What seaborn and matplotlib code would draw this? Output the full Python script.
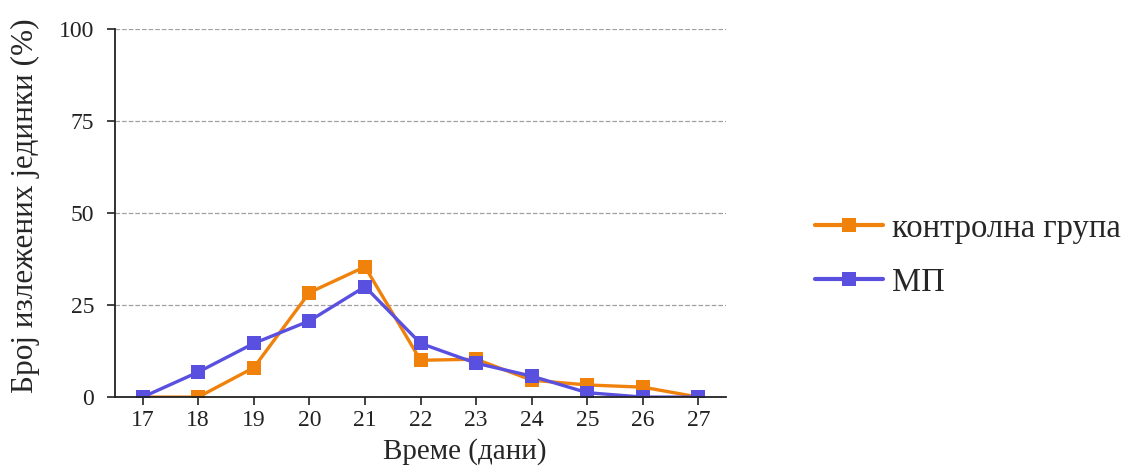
import pandas as pd
import seaborn as sns
import matplotlib.pyplot as plt

days = [17, 18, 19, 20, 21, 22, 23, 24, 25, 26, 27]
control = [0, 0, 8.0, 28.4, 35.4, 10.0, 10.3, 4.6, 3.3, 2.7, 0]
mp = [0, 6.8, 14.6, 20.7, 30.0, 14.6, 9.2, 5.7, 1.2, 0, 0]
series_names = ['контролна група', 'МП']
y_ticks = [0, 25, 50, 75, 100]

df = pd.DataFrame({
    'day': days * 2,
    'value': control + mp,
    'group': [series_names[0]] * len(days) + [series_names[1]] * len(days),
})

sns.set_style('ticks')
plt.rcParams['font.family'] = ['Liberation Serif', 'DejaVu Serif']

fig = plt.figure(figsize=(11.26, 4.75), dpi=100)
ax = fig.add_axes([0.102, 0.164, 0.543, 0.775])

palette = {series_names[0]: '#F0820C', series_names[1]: '#5A50E0'}
sns.lineplot(data=df, x='day', y='value', hue='group', palette=palette,
             marker='s', markersize=10, markeredgewidth=0, linewidth=2.4,
             ax=ax)

ax.set_xlim(16.5, 27.5)
ax.set_ylim(0, 100)
ax.set_xticks(days)
ax.set_yticks(y_ticks)
ax.yaxis.grid(True, linestyle='--', color='#a0a0a0', linewidth=0.9)
ax.set_axisbelow(True)
for s in ['top', 'right']:
    ax.spines[s].set_visible(False)
for s in ['left', 'bottom']:
    ax.spines[s].set_linewidth(1.3)
    ax.spines[s].set_color('#222222')
ax.tick_params(axis='both', labelsize=17, direction='out', length=6, width=1.2, colors='#222222')
ax.tick_params(axis='y', pad=9)

ax.set_xlabel('Време (дани)', fontsize=21)
ax.set_ylabel('Број излежених јединки (%)', fontsize=22.5)
ax.xaxis.set_label_coords(0.573, -0.11)
ax.yaxis.set_label_coords(-0.122, 0.52)

leg = ax.legend(loc='center left', bbox_to_anchor=(1.097, 0.385), frameon=False,
                fontsize=23.5, handlelength=2.1, labelspacing=0.72, handletextpad=0.25)
for h in leg.legend_handles:
    h.set_linewidth(3.0)
    h.set_markersize(9.5)

plt.savefig('out.png', dpi=100)
